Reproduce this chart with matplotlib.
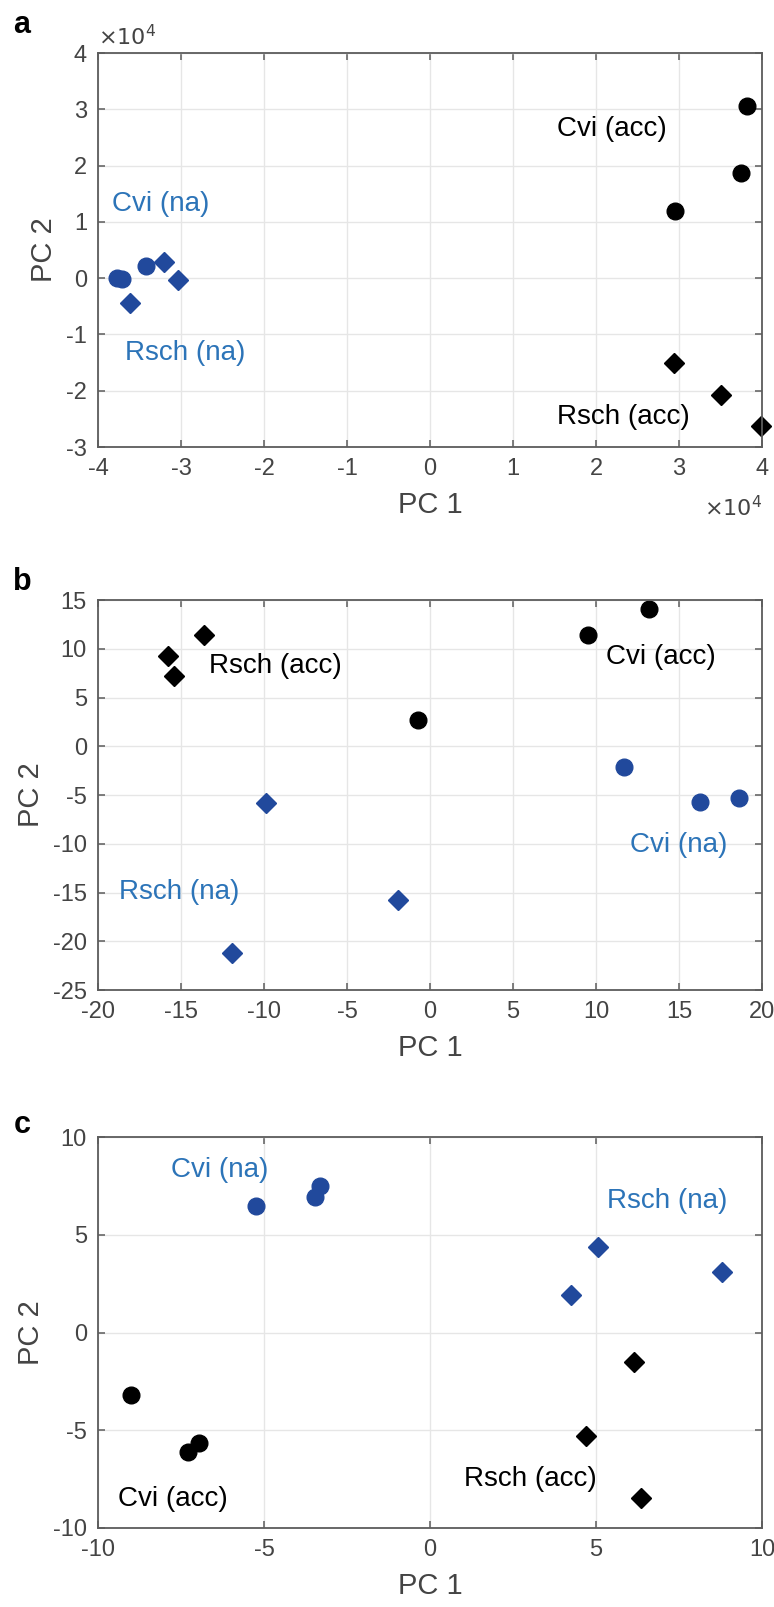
import matplotlib
matplotlib.use("Agg")
import matplotlib.pyplot as plt

plt.rcParams['font.family'] = ['Liberation Sans', 'DejaVu Sans']
plt.rcParams['axes.unicode_minus'] = False

MARKER_BLUE = '#21499c'
TEXT_BLUE = '#2c74b8'
AXIS_GRAY = '#5c5c5c'
TICK_GRAY = '#444444'

# Panel a (units of 1e4)
a_cvi_acc_x = [3.82, 3.75, 2.95]
a_cvi_acc_y = [3.05, 1.87, 1.20]
a_rsch_acc_x = [2.94, 3.51, 3.99]
a_rsch_acc_y = [-1.50, -2.07, -2.63]
a_cvi_na_x = [-3.77, -3.71, -3.42]
a_cvi_na_y = [0.01, -0.02, 0.21]
a_rsch_na_x = [-3.61, -3.20, -3.04]
a_rsch_na_y = [-0.44, 0.29, -0.03]

# Panel b
b_cvi_acc_x = [9.5, 13.2, -0.7]
b_cvi_acc_y = [11.4, 14.05, 2.7]
b_rsch_acc_x = [-15.8, -15.4, -13.6]
b_rsch_acc_y = [9.3, 7.25, 11.4]
b_cvi_na_x = [11.7, 16.25, 18.6]
b_cvi_na_y = [-2.15, -5.7, -5.35]
b_rsch_na_x = [-9.85, -1.95, -11.9]
b_rsch_na_y = [-5.85, -15.8, -21.25]

# Panel c
c_cvi_acc_x = [-9.0, -7.3, -6.95]
c_cvi_acc_y = [-3.2, -6.1, -5.65]
c_rsch_acc_x = [6.15, 4.7, 6.35]
c_rsch_acc_y = [-1.5, -5.3, -8.45]
c_cvi_na_x = [-5.25, -3.45, -3.3]
c_cvi_na_y = [6.48, 6.95, 7.5]
c_rsch_na_x = [4.25, 5.05, 8.8]
c_rsch_na_y = [1.93, 4.37, 3.1]

panels = [
    dict(letter='a', xlim=(-4, 4), ylim=(-3, 4), xticks=range(-4, 5), yticks=range(-3, 5),
         cvi_acc=(a_cvi_acc_x, a_cvi_acc_y), rsch_acc=(a_rsch_acc_x, a_rsch_acc_y),
         cvi_na=(a_cvi_na_x, a_cvi_na_y), rsch_na=(a_rsch_na_x, a_rsch_na_y),
         labels=[('Cvi (acc)', 2.19, 2.65, 'k'), ('Cvi (na)', -3.25, 1.32, TEXT_BLUE),
                 ('Rsch (na)', -2.95, -1.33, TEXT_BLUE), ('Rsch (acc)', 2.33, -2.46, 'k')]),
    dict(letter='b', xlim=(-20, 20), ylim=(-25, 15), xticks=range(-20, 21, 5), yticks=range(-25, 16, 5),
         cvi_acc=(b_cvi_acc_x, b_cvi_acc_y), rsch_acc=(b_rsch_acc_x, b_rsch_acc_y),
         cvi_na=(b_cvi_na_x, b_cvi_na_y), rsch_na=(b_rsch_na_x, b_rsch_na_y),
         labels=[('Rsch (acc)', -9.3, 8.2, 'k'), ('Cvi (acc)', 13.9, 9.2, 'k'),
                 ('Cvi (na)', 15.0, -10.1, TEXT_BLUE), ('Rsch (na)', -15.1, -14.9, TEXT_BLUE)]),
    dict(letter='c', xlim=(-10, 10), ylim=(-10, 10), xticks=range(-10, 11, 5), yticks=range(-10, 11, 5),
         cvi_acc=(c_cvi_acc_x, c_cvi_acc_y), rsch_acc=(c_rsch_acc_x, c_rsch_acc_y),
         cvi_na=(c_cvi_na_x, c_cvi_na_y), rsch_na=(c_rsch_na_x, c_rsch_na_y),
         labels=[('Cvi (na)', -6.34, 8.3, TEXT_BLUE), ('Rsch (na)', 7.14, 6.72, TEXT_BLUE),
                 ('Rsch (acc)', 3.03, -7.48, 'k'), ('Cvi (acc)', -7.73, -8.52, 'k')]),
]

W, H = 774, 1607
fig = plt.figure(figsize=(W / 100, H / 100), dpi=100)

# axes boxes in pixels: (left, top, right, bottom)
boxes = [(98, 53, 762, 447), (98, 600, 762, 990), (98, 1137, 762, 1528)]
letter_y = [25, 582, 1125]

for p, (l, t, r, b), ly in zip(panels, boxes, letter_y):
    ax = fig.add_axes([l / W, 1 - b / H, (r - l) / W, (b - t) / H])
    ax.set_xlim(*p['xlim'])
    ax.set_ylim(*p['ylim'])
    ax.set_xticks(list(p['xticks']))
    ax.set_yticks(list(p['yticks']))
    ax.grid(True, color='#e6e6e6', linewidth=1.0)
    ax.set_axisbelow(True)
    for s in ax.spines.values():
        s.set_color(AXIS_GRAY)
        s.set_linewidth(1.3)
    ax.tick_params(direction='in', length=5, width=1.1, color=AXIS_GRAY,
                   labelcolor=TICK_GRAY, labelsize=17, top=True, right=True, pad=8)

    ax.plot(*p['cvi_acc'], 'o', color='k', markersize=12, linestyle='none', clip_on=False)
    ax.plot(*p['rsch_acc'], 'D', color='k', markersize=10, linestyle='none', clip_on=False)
    ax.plot(*p['cvi_na'], 'o', color=MARKER_BLUE, markersize=12, linestyle='none', clip_on=False)
    ax.plot(*p['rsch_na'], 'D', color=MARKER_BLUE, markersize=10, linestyle='none', clip_on=False)
    for txt, x, y, c in p['labels']:
        ax.text(x, y, txt, color=c, fontsize=20, ha='center', va='center')

    ax.set_ylabel('PC 2', fontsize=21, color=TICK_GRAY, labelpad=6)
    ax.set_xlabel('PC 1', fontsize=21, color=TICK_GRAY, labelpad=8)
    fig.text(22 / W, 1 - ly / H, p['letter'], fontsize=22, fontweight='bold',
             ha='center', va='center')

    if p['letter'] == 'a':
        ax.text(0.0, 1.008, r'$\times10^{4}$', transform=ax.transAxes, fontsize=16,
                color=TICK_GRAY, ha='left', va='bottom')
        ax.text(1.0, -0.125, r'$\times10^{4}$', transform=ax.transAxes, fontsize=16,
                color=TICK_GRAY, ha='right', va='top')

fig.savefig('out.png', dpi=100)
